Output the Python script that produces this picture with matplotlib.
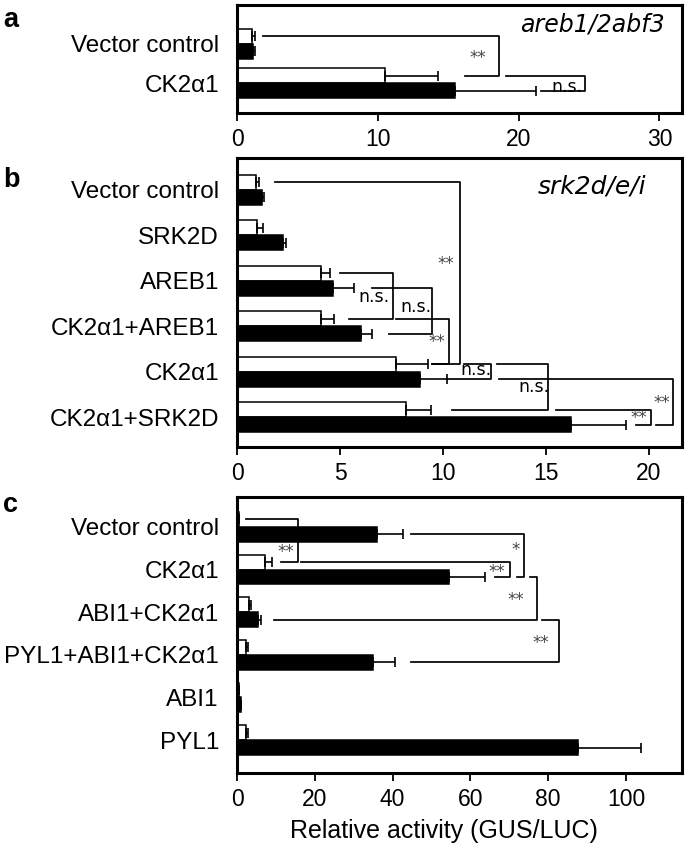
import matplotlib
matplotlib.use("Agg")
import matplotlib.pyplot as plt

LABEL_FONT = ["Liberation Sans", "DejaVu Sans"]
NOTE_FONT = ["DejaVu Sans"]

# ---- panel a: areb1/2abf3 ----
a_labels = ["Vector control", "CK2α1"]
a_white = [1.05, 10.5]
a_white_err = [0.2, 3.8]
a_black = [1.15, 15.5]
a_black_err = [0.15, 5.7]
a_ticks = [0, 10, 20, 30]

# ---- panel b: srk2d/e/i ----
b_labels = ["Vector control", "SRK2D", "AREB1", "CK2α1+AREB1", "CK2α1", "CK2α1+SRK2D"]
b_white = [0.93, 0.96, 4.07, 4.07, 7.73, 8.21]
b_white_err = [0.16, 0.29, 0.46, 0.65, 1.54, 1.22]
b_black = [1.2, 2.22, 4.66, 6.04, 8.86, 16.19]
b_black_err = [0.13, 0.17, 1.04, 0.53, 1.32, 2.67]
b_ticks = [0, 5, 10, 15, 20]

# ---- panel c ----
c_labels = ["Vector control", "CK2α1", "ABI1+CK2α1", "PYL1+ABI1+CK2α1", "ABI1", "PYL1"]
c_white = [0.4, 7.3, 3.1, 2.25, 0.45, 2.25]
c_white_err = [0.2, 1.6, 0.6, 0.55, 0.15, 0.65]
c_black = [35.9, 54.6, 5.3, 34.9, 0.9, 87.6]
c_black_err = [6.7, 9.2, 0.9, 5.6, 0.2, 16.2]
c_ticks = [0, 20, 40, 60, 80, 100]

# significance brackets: (top row, top bar, top arm start, vertical x, bottom row, bottom bar, bottom arm start)
a_brackets = [
    (0, "w", 1.87, 18.6, 1, "w", 16.2),
    (1, "w", 19.1, 24.7, 1, "b", 21.6),
]
a_notes = [("**", 17.1, 0.35), ("n.s.", 23.4, 1.1)]

b_brackets = [
    (0, "w", 1.85, 10.83, 4, "w", 9.48),
    (2, "w", 5.0, 7.56, 3, "w", 5.42),
    (2, "b", 6.56, 9.48, 3, "b", 7.37),
    (3, "w", 7.73, 10.29, 4, "w", 9.48),
    (4, "w", 11.0, 12.32, 4, "b", 10.2),
    (4, "w", 12.61, 15.08, 5, "w", 10.45),
    (4, "b", 12.7, 21.17, 5, "b", 20.36),
    (5, "w", 15.49, 20.08, 5, "b", 19.35),
]
b_notes = [("**", 10.13, 1.63), ("n.s.", 6.66, 2.35), ("n.s.", 8.67, 2.57),
           ("**", 9.68, 3.35), ("n.s.", 11.6, 3.97), ("n.s.", 14.4, 4.33),
           ("**", 20.6, 4.69), ("**", 19.5, 5.02)]

c_brackets = [
    (0, "w", 2.25, 15.7, 1, "w", 11.2),
    (0, "b", 44.7, 73.9, 1, "b", 72.0),
    (1, "w", 16.5, 70.3, 1, "b", 66.3),
    (1, "b", 75.4, 77.0, 2, "b", 9.6),
    (2, "b", 78.4, 82.7, 3, "b", 44.7),
]
c_notes = [("**", 12.6, 0.58), ("*", 71.7, 0.54), ("**", 66.9, 1.05),
           ("**", 71.7, 1.72), ("**", 78.2, 2.72)]


def draw_panel(ax, labels, white, white_err, black, black_err, xmax, ticks,
               h, ylims, brackets, notes):
    rows = list(range(len(labels)))
    ax.barh([r - h / 2 for r in rows], white, height=h, color="white",
            edgecolor="black", linewidth=1.1, zorder=2)
    ax.barh([r + h / 2 for r in rows], black, height=h, color="black",
            edgecolor="black", linewidth=1.1, zorder=2)
    ax.errorbar(white, [r - h / 2 for r in rows],
                xerr=[[0] * len(white), white_err], fmt="none", ecolor="black",
                elinewidth=1.2, capsize=3.5, capthick=1.2, zorder=3)
    ax.errorbar(black, [r + h / 2 for r in rows],
                xerr=[[0] * len(black), black_err], fmt="none", ecolor="black",
                elinewidth=1.2, capsize=3.5, capthick=1.2, zorder=3)

    for r1, k1, x1, xv, r2, k2, x2 in brackets:
        y1 = r1 - h / 2 if k1 == "w" else r1 + h / 2
        y2 = r2 - h / 2 if k2 == "w" else r2 + h / 2
        ax.plot([x1, xv, xv, x2], [y1, y1, y2, y2], color="black", lw=1.25,
                zorder=4)
    for txt, x, y in notes:
        is_star = txt.startswith("*")
        ax.text(x, y, txt, ha="center", va="center",
                fontsize=12 if is_star else 12.5, family=NOTE_FONT,
                color="#444444" if is_star else "black", zorder=5)

    ax.set_xlim(0, xmax)
    ax.set_ylim(*ylims)
    ax.set_yticks(rows)
    ax.set_yticklabels(labels, fontsize=17.5, family=LABEL_FONT)
    ax.set_xticks(ticks)
    ax.set_xticklabels([str(t) for t in ticks], fontsize=16.5, family=LABEL_FONT)
    ax.tick_params(axis="y", length=0, pad=13)
    ax.tick_params(axis="x", length=6, width=1.3, pad=5, direction="out")
    for sp in ax.spines.values():
        sp.set_linewidth(2.2)


fig = plt.figure(figsize=(6.85, 8.5), dpi=100)
W, H = 685.0, 850.0


def box(left, top, right, bottom):
    return [left / W, 1 - bottom / H, (right - left) / W, (bottom - top) / H]


ax_a = fig.add_axes(box(237, 5, 682, 113))
ax_b = fig.add_axes(box(237, 158, 682, 447))
ax_c = fig.add_axes(box(237, 497, 682, 773))

draw_panel(ax_a, a_labels, a_white, a_white_err, a_black, a_black_err,
           31.6, a_ticks, 0.375, (1.75, -0.975), a_brackets, a_notes)
draw_panel(ax_b, b_labels, b_white, b_white_err, b_black, b_black_err,
           21.6, b_ticks, 0.33, (5.66, -0.70), b_brackets, b_notes)
draw_panel(ax_c, c_labels, c_white, c_white_err, c_black, c_black_err,
           114.4, c_ticks, 0.35, (5.77, -0.70), c_brackets, c_notes)

ax_a.text(0.962, 0.815, "areb1/2abf3", transform=ax_a.transAxes, ha="right",
          va="center", fontsize=17, style="italic", family=NOTE_FONT)
ax_b.text(0.919, 0.90, "srk2d/e/i", transform=ax_b.transAxes, ha="right",
          va="center", fontsize=18, style="italic", family=NOTE_FONT)

ax_c.set_xlabel("Relative activity (GUS/LUC)", fontsize=18, family=LABEL_FONT,
                labelpad=8)
ax_c.xaxis.set_label_coords(0.465, -0.165)

for letter, base in [("a", 27), ("b", 187), ("c", 512)]:
    fig.text(3 / W, 1 - base / H, letter, fontsize=19.5, fontweight="bold",
             family=LABEL_FONT, va="baseline", ha="left")

fig.savefig("out.png", dpi=100)
